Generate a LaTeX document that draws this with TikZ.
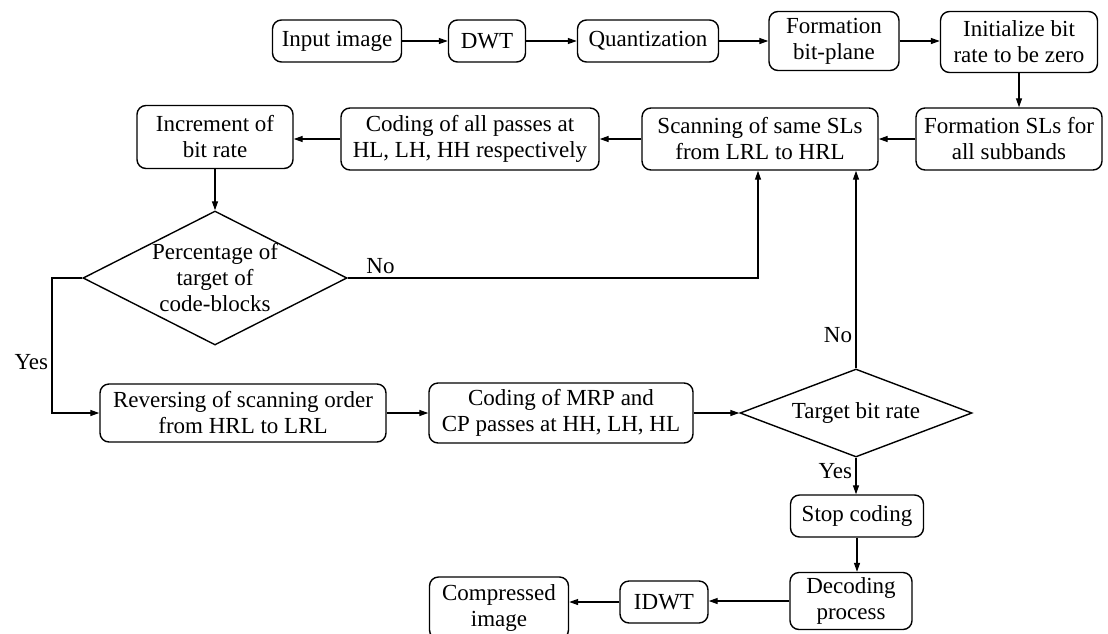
\documentclass[tikz,border=0pt]{standalone}
\usepackage{fontspec}
\setmainfont{Liberation Serif}
\usetikzlibrary{shapes.geometric,arrows.meta}

\begin{document}
\begin{tikzpicture}[x=1pt, y=-1pt,
    font=\rmfamily\fontsize{23}{26}\selectfont,
    box/.style={draw, line width=1.4pt, rounded corners=9pt, align=center,
        inner sep=0pt, minimum height=42pt},
    choice/.style={draw, line width=1.4pt, diamond, inner sep=0pt},
    arr/.style={line width=1.3pt, -{Triangle[length=9pt,width=6pt]}}]
    \useasboundingbox (0,0) rectangle (1108,633);

    % Top row
    \node[box, minimum width=129pt] (input) at (337,41) {Input image};
    \node[box, minimum width=77pt] (dwt) at (487,41) {DWT};
    \node[box, minimum width=141pt] (quant) at (648,41) {Quantization};
    \node[box, minimum width=130pt, minimum height=59pt] (fbp) at (834,41) {Formation\\bit-plane};
    \node[box, minimum width=157pt, minimum height=61pt] (init) at (1019,42) {Initialize bit\\rate to be zero};

    % Second row
    \node[box, minimum width=186pt, minimum height=62pt] (fsl) at (1009,139) {Formation SLs for\\all subbands};
    \node[box, minimum width=236pt, minimum height=62pt] (scan) at (760,139) {Scanning of same SLs\\from LRL to HRL};
    \node[box, minimum width=258pt, minimum height=62pt] (allp) at (470,139) {Coding of all passes at\\HL, LH, HH respectively};
    \node[box, minimum width=156pt, minimum height=63pt] (incr) at (215,137) {Increment of\\bit rate};

    % Decisions
    \node[choice, minimum width=264pt, minimum height=134pt] (pct) at (215,278) {};
    \node[align=center] (pcttxt) at (pct) {Percentage of\\target of\\code-blocks};
    \node[choice, minimum width=232pt, minimum height=88pt] (tbr) at (856,413) {};
    \node (tbrtxt) at (tbr) {Target bit rate};

    % Third row and output
    \node[box, minimum width=286pt, minimum height=58pt] (rev) at (243,413) {Reversing of scanning order\\from HRL to LRL};
    \node[box, minimum width=264pt, minimum height=60pt] (mrp) at (561,413) {Coding of MRP and\\CP passes at HH, LH, HL};
    \node[box, minimum width=133pt] (stop) at (857,516) {Stop coding};
    \node[box, minimum width=122pt, minimum height=57pt] (decp) at (851,601) {Decoding\\process};
    \node[box, minimum width=88pt] (idwt) at (664,602) {IDWT};
    \node[box, minimum width=139pt, minimum height=62pt] (comp) at (499,608) {Compressed\\image};

    \coordinate (nojoin) at (758,278);
    \coordinate (yesturn) at (52,278);

    % Connectors
    \draw[arr] (input.east) -- (dwt.west);
    \draw[arr] (dwt.east) -- (quant.west);
    \draw[arr] (quant.east) -- (quant.east -| fbp.west);
    \draw[arr] (fbp.east) -- (fbp.east -| init.west);
    \draw[arr] (init.south) -- (init.south |- fsl.north);
    \draw[arr] (fsl.west) -- (fsl.west -| scan.east);
    \draw[arr] (scan.west) -- (scan.west -| allp.east);
    \draw[arr] (allp.west) -- (allp.west -| incr.east);
    \draw[arr] (incr.south) -- (pct.north);
    \draw[arr] (pct.east) -- node[above, pos=0.08] {No} (nojoin) -- (nojoin |- scan.south);
    \draw[arr] (pct.west) -- (yesturn) -- node[left, pos=0.62] {Yes} (yesturn |- rev.west) -- (rev.west);
    \draw[arr] (rev.east) -- (mrp.west);
    \draw[arr] (mrp.east) -- (tbr.west);
    \draw[arr] (tbr.north) -- node[left, pos=0.17] {No} (tbr.north |- scan.south);
    \draw[arr] (tbr.south) -- node[left, pos=0.36] {Yes} (tbr.south |- stop.north);
    \draw[arr] (stop.south) -- (stop.south |- decp.north);
    \draw[arr] (decp.west) -- (decp.west -| idwt.east);
    \draw[arr] (idwt.west) -- (idwt.west -| comp.east);
\end{tikzpicture}
\end{document}
